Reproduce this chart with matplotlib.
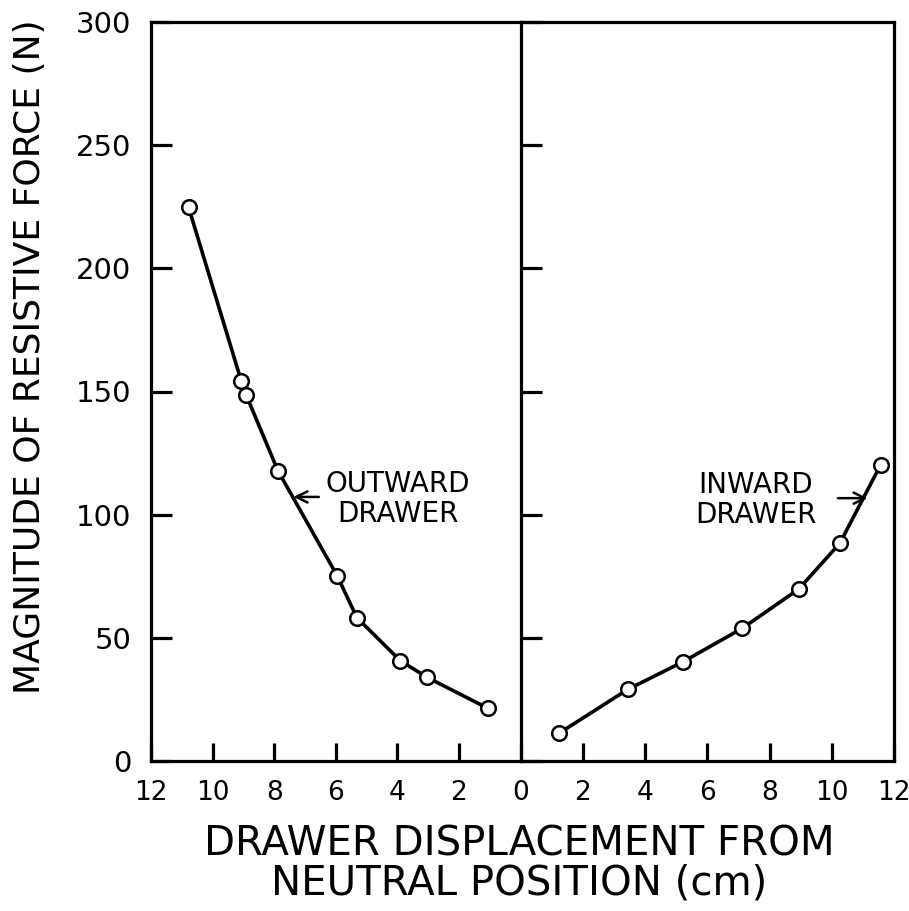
import matplotlib
matplotlib.use("Agg")
import matplotlib.pyplot as plt

# Data
out_x = [10.78, 9.07, 8.91, 7.88, 5.95, 5.31, 3.90, 3.04, 1.06]
out_y = [224.8, 154.3, 148.6, 117.9, 75.1, 58.1, 40.7, 34.0, 21.4]
in_x = [1.23, 3.45, 5.21, 7.13, 8.94, 10.26, 11.57]
in_y = [11.2, 29.1, 40.2, 53.9, 69.8, 88.4, 120.2]

y_ticks = [0, 50, 100, 150, 200, 250, 300]
left_xticks = [12, 10, 8, 6, 4, 2]
right_xticks = [0, 2, 4, 6, 8, 10, 12]

ylabel = "MAGNITUDE OF RESISTIVE FORCE (N)"
xlabel = "DRAWER DISPLACEMENT FROM\nNEUTRAL POSITION (cm)"
out_label = "OUTWARD\nDRAWER"
in_label = "INWARD\nDRAWER"

plt.rcParams['font.family'] = ['DejaVu Sans']

fig = plt.figure(figsize=(9.09, 9.11), dpi=100)
L, R, B, T = 151/909, 894/909, 1-761/911, 1-22/911
mid = 520.5/909
axl = fig.add_axes([L, B, mid-L, T-B])
axr = fig.add_axes([mid, B, R-mid, T-B], sharey=axl)

lw = 2.3
for ax in (axl, axr):
    for s in ax.spines.values():
        s.set_linewidth(lw)
    ax.set_ylim(0, 300)

axl.set_xlim(12, 0)
axr.set_xlim(0, 12)

line_kw = dict(color='black', lw=2.6, marker='o', ms=10.5, mfc='white',
               mec='black', mew=1.8, zorder=3, clip_on=False)
axl.plot(out_x, out_y, **line_kw)
axr.plot(in_x, in_y, **line_kw)

# ticks
axl.set_yticks(y_ticks)
axl.set_xticks(left_xticks)
axl.tick_params(axis='y', direction='in', length=15, width=lw, labelsize=21, pad=14)
axl.tick_params(axis='x', direction='in', length=13, width=lw, labelsize=19, pad=14)
axl.spines['right'].set_visible(False)

axr.set_xticks(right_xticks)
axr.tick_params(axis='y', direction='in', length=15, width=lw, labelleft=False)
axr.tick_params(axis='x', direction='in', length=13, width=lw, labelsize=19, pad=14)

# annotations
axl.annotate("", xy=(7.37, 107.2), xytext=(6.55, 107.2),
             arrowprops=dict(arrowstyle='->', color='black', lw=1.8,
                             mutation_scale=20, shrinkA=0, shrinkB=0))
axl.text(3.98, 106.5, out_label, ha='center', va='center', fontsize=20,
         linespacing=1.1)
axr.annotate("", xy=(11.15, 106.7), xytext=(10.2, 106.7),
             arrowprops=dict(arrowstyle='->', color='black', lw=1.8,
                             mutation_scale=20, shrinkA=0, shrinkB=0))
axr.text(7.55, 106.0, in_label, ha='center', va='center', fontsize=20,
         linespacing=1.1)

fig.text(30/909, 1-357/911, ylabel, rotation=90, ha='center', va='center',
         fontsize=26)
fig.text(519/909, 1-864/911, xlabel, ha='center', va='center', fontsize=29,
         linespacing=1.0)

fig.savefig("out.png", dpi=100)
